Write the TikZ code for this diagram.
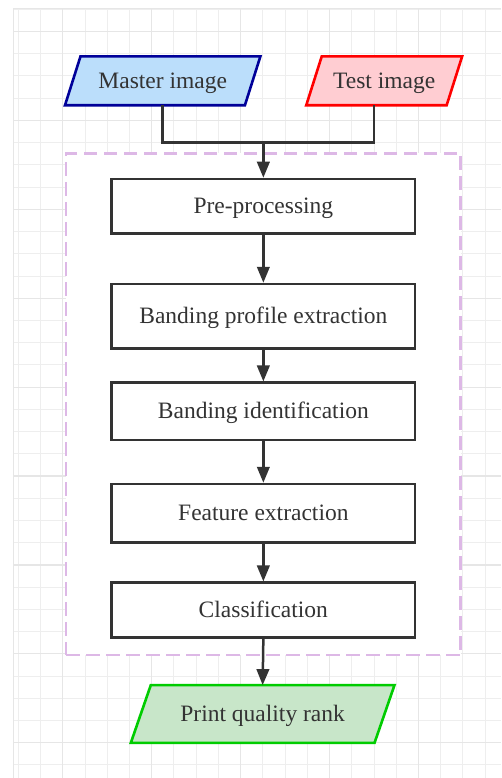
\documentclass[tikz,border=0pt]{standalone}
\usepackage{fontspec}
\setmainfont{Liberation Serif}
\usetikzlibrary{arrows.meta,calc}
\definecolor{ink}{HTML}{333333}
\definecolor{gridminor}{HTML}{EEEEEE}
\definecolor{gridmajor}{HTML}{E6E6E6}
\definecolor{grpcol}{HTML}{DDB8E6}
\definecolor{mstroke}{HTML}{000099}
\definecolor{mfill}{HTML}{BBDEFB}
\definecolor{tstroke}{HTML}{FF0000}
\definecolor{tfill}{HTML}{FFCDD2}
\definecolor{pstroke}{HTML}{00CC00}
\definecolor{pfill}{HTML}{C8E6C9}
\pgfdeclarelayer{gridlayer}
\pgfdeclarelayer{shapelayer}
\pgfsetlayers{gridlayer,shapelayer,main}
\tikzset{
  txt/.style={font=\fontsize{23.5}{28}\selectfont, text=ink, inner sep=0pt, text height=15pt, text depth=0pt},
  stepbox/.style={txt, draw=ink, line width=2.5pt, fill=white, minimum width=303.3pt},
  iobox/.style={txt},
  para/.style={line width=2.6pt, line join=miter},
  conn/.style={draw=ink, line width=2.5pt},
  arr/.style={conn, -{Triangle[length=16pt,width=12.5pt]}},
  grpbox/.style={draw=grpcol, fill=white, line width=2.5pt, dash pattern=on 13.5pt off 6.5pt, inner sep=0pt},
  gminor/.style={draw=gridminor, line width=1pt},
  gmajor/.style={draw=gridmajor, line width=1.2pt}
}
\begin{document}
\begin{tikzpicture}[x=1pt,y=-1pt]
\useasboundingbox (0,0) rectangle (501,778);
\begin{pgfonlayer}{gridlayer}
  \fill[white] (0,0) rectangle (501,778);
  \foreach \k in {0,...,21} {\draw[gminor] ({18.4+22.225*\k},8.3) -- ({18.4+22.225*\k},778);}
  \foreach \k in {0,...,34} {\draw[gminor] (13.3,{9.3+22.225*\k}) -- (501,{9.3+22.225*\k});}
  \foreach \k in {2,6,10,14,18} {\draw[gmajor] ({18.4+22.225*\k},8.3) -- ({18.4+22.225*\k},778);}
  \foreach \k in {1,5,...,33} {\draw[gmajor] (13.3,{9.3+22.225*\k}) -- (501,{9.3+22.225*\k});}
  \draw[gmajor] (13.3,778) -- (13.3,8.3) -- (501,8.3);
\end{pgfonlayer}

% group container
\node[grpbox, minimum width=394.7pt, minimum height=501.7pt] (grp) at (263.35,404.15) {};

% inputs
\node[iobox, minimum width=179.5pt, minimum height=48.5pt] (master) at (162.7,80.8) {Master image};
\node[iobox, minimum width=140pt, minimum height=48.5pt] (test) at (384.2,80.8) {Test image};
\begin{pgfonlayer}{shapelayer}
  \draw[para, draw=mstroke, fill=mfill] ($(master.north west)+(7.75,0)$) -- ($(master.north east)+(7.75,0)$) -- ($(master.south east)+(-7.75,0)$) -- ($(master.south west)+(-7.75,0)$) -- cycle;
  \draw[para, draw=tstroke, fill=tfill] ($(test.north west)+(7.75,0)$) -- ($(test.north east)+(7.75,0)$) -- ($(test.south east)+(-7.75,0)$) -- ($(test.south west)+(-7.75,0)$) -- cycle;
\end{pgfonlayer}

% steps
\node[stepbox, minimum height=54.3pt] (pre) at (263.35,206.15) {Pre-processing};
\node[stepbox, minimum height=64.3pt] (bpe) at (263.35,316.15) {Banding profile extraction};
\node[stepbox, minimum height=57.3pt] (bid) at (263.35,411.35) {Banding identification};
\node[stepbox, minimum height=58.3pt] (fex) at (263.35,513.15) {Feature extraction};
\node[stepbox, minimum height=54.6pt] (cls) at (263.35,610) {Classification};

% output
\node[iobox, minimum width=243.3pt, minimum height=57.4pt] (pqr) at (262.65,714) {Print quality rank};
\begin{pgfonlayer}{shapelayer}
  \draw[para, draw=pstroke, fill=pfill] ($(pqr.north west)+(10,0)$) -- ($(pqr.north east)+(10,0)$) -- ($(pqr.south east)+(-10,0)$) -- ($(pqr.south west)+(-10,0)$) -- cycle;
\end{pgfonlayer}

% connectors
\coordinate (j) at (263.35,142.7);
\draw[conn] (master.south) |- (j);
\draw[conn] ([xshift=-10.2pt]test.south) |- (j);
\draw[arr] (j) -- (pre.north);
\draw[arr] (pre) -- (bpe);
\draw[arr] (bpe) -- (bid);
\draw[arr] (bid) -- (fex);
\draw[arr] (fex) -- (cls);
\draw[arr] (cls.south) -- (pqr.north);
\end{tikzpicture}
\end{document}
